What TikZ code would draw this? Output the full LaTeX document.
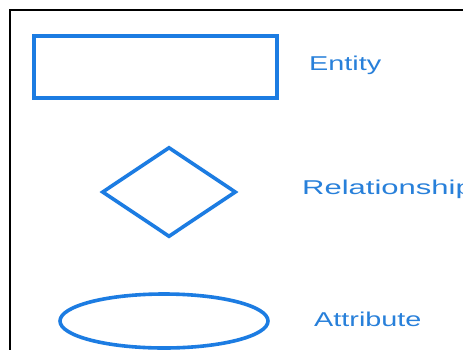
\documentclass[tikz,border=0pt]{standalone}
\usepackage{fontspec}
\setmainfont{Liberation Sans}
\usetikzlibrary{shapes.geometric}
\definecolor{erblue}{RGB}{28,124,226}
\definecolor{txtblue}{RGB}{40,128,218}
\tikzset{
  shapeline/.style={draw=erblue, line width=3.6pt, inner sep=0pt},
  legendtext/.style={text=txtblue, anchor=base west, inner sep=0pt, font=\fontsize{20}{24}\selectfont},
  frameline/.style={draw=black, line width=2pt}
}
\begin{document}
\begin{tikzpicture}[x=1pt,y=-1pt]
\useasboundingbox (0,0) rectangle (463,349);
\clip (0,0) rectangle (463,349);
\fill[white] (0,0) rectangle (463,349);
\draw[frameline] (10,360) -- (10,10) -- (470,10);
\node[shapeline, rectangle, minimum width=243pt, minimum height=62pt] (entity) at (155.5,67) {};
\node[shapeline, diamond, minimum width=134pt, minimum height=90pt] (rel) at (169,192) {};
\node[shapeline, ellipse, minimum width=208pt, minimum height=54pt] (attr) at (164,321) {};
\node[legendtext] (tentity) at (309,70) {\scalebox{1.44}[1]{Entity}};
\node[legendtext] (trel) at (302,194) {\scalebox{1.55}[1]{Relationship}};
\node[legendtext] (tattr) at (314,326) {\scalebox{1.44}[1]{Attribute}};
\end{tikzpicture}
\end{document}
